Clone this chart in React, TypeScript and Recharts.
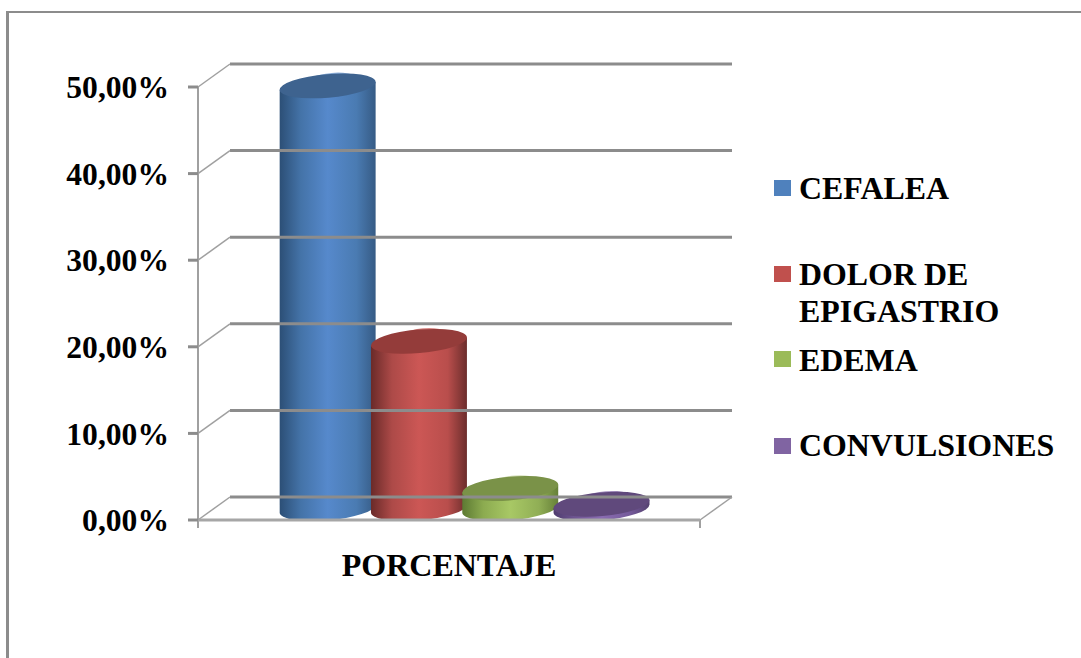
import React from 'react';
import { BarChart, Bar, XAxis, YAxis, Legend, ReferenceLine } from 'recharts';

const category = 'PORCENTAJE';
const seriesNames = ['CEFALEA', 'DOLOR DE EPIGASTRIO', 'EDEMA', 'CONVULSIONES'];
const seriesValues = [48.8, 19.3, 2.3, 0.5];
const legendColors = ['#4f81bd', '#c0504d', '#9bbb59', '#8064a2'];
const topColors = ['#3e638f', '#943c3a', '#7a9248', '#60497c'];
const rimColors = ['#8fb0da', '#d88a88', '#d4dfb8', '#a996c4'];
const sideStops = [
  ['#2c4f76', '#4473a8', '#5689cc', '#4a7bb2', '#365b85'],
  ['#6a2a29', '#ad4a48', '#cc5755', '#b94e4c', '#6c2d2c'],
  ['#5d7a33', '#8cab50', '#a8c865', '#90ae55', '#668038'],
  ['#4f3d6e', '#6f5592', '#8a6cb2', '#755a9a', '#54416f'],
];
const yTicks = [0, 10, 20, 30, 40, 50];
const legendRowTops = [170, 256, 342, 427];
const legendSwatchTops = [180, 266, 351, 438];

const tableRow: Record<string, string | number> = { name: category };
seriesNames.forEach((n, i) => {
  tableRow[n] = seriesValues[i];
});
const rows = [tableRow];

const DEPTH_X = 32;
const DEPTH_Y = 23;
const TILT = (5 * Math.PI) / 180;
const RY = 11.8;
const OVERLAP = 5;
const SERIF = '"Liberation Serif", "Times New Roman", serif';

// Cylinder standing midway through the depth of the floor, tilted with the perspective.
function cylinder(index: number) {
  return function CylinderShape(props: any) {
    const { x, y, width, height } = props;
    const a = (width + OVERLAP) / 2;
    const b = RY;
    const cx = x + width / 2 + DEPTH_X / 2;
    const topY = y - DEPTH_Y / 2;
    const baseY = y + height - DEPTH_Y / 2;
    const t = Math.atan((b * Math.sin(TILT)) / (a * Math.cos(TILT)));
    const ex = a * Math.cos(t) * Math.cos(TILT) + b * Math.sin(t) * Math.sin(TILT);
    const ey = -a * Math.cos(t) * Math.sin(TILT) + b * Math.sin(t) * Math.cos(TILT);
    const tiltDeg = (TILT * 180) / Math.PI;
    const id = `cyl-side-${index}`;
    const body = [
      `M ${cx - ex} ${topY - ey}`,
      `L ${cx + ex} ${topY + ey}`,
      `L ${cx + ex} ${baseY + ey}`,
      `A ${a} ${b} ${-tiltDeg} 0 1 ${cx - ex} ${baseY - ey}`,
      'Z',
    ].join(' ');
    const transform = `rotate(${-tiltDeg} ${cx} ${topY})`;
    return (
      <g>
        <defs>
          <linearGradient id={id} x1="0" y1="0" x2="1" y2="0">
            <stop offset="0%" stopColor={sideStops[index][0]} />
            <stop offset="22%" stopColor={sideStops[index][1]} />
            <stop offset="50%" stopColor={sideStops[index][2]} />
            <stop offset="80%" stopColor={sideStops[index][3]} />
            <stop offset="100%" stopColor={sideStops[index][4]} />
          </linearGradient>
        </defs>
        <path d={body} fill={`url(#${id})`} />
        <ellipse cx={cx + 5} cy={topY - 0.8} rx={a - 18} ry={b} fill={rimColors[index]} transform={transform} />
        <ellipse cx={cx} cy={topY} rx={a} ry={b} fill={topColors[index]} transform={transform} />
      </g>
    );
  };
}

// Back-wall gridline plus the diagonal joining it to the front axis.
function wallLine(isFloor: boolean) {
  return function WallLine(props: any) {
    const { x1, y1, x2, y2 } = props;
    const backY = y1 - DEPTH_Y;
    return (
      <g>
        <line x1={x1 + DEPTH_X} y1={backY} x2={x2 + DEPTH_X} y2={y2 - DEPTH_Y} stroke="#8c8c8c" strokeWidth={3} />
        <line x1={x1} y1={y1} x2={x1 + DEPTH_X} y2={backY} stroke="#a0a0a0" strokeWidth={1.5} />
        {isFloor && (
          <g>
            <line x1={x2} y1={y2} x2={x2 + DEPTH_X} y2={backY} stroke="#a0a0a0" strokeWidth={1.5} />
            <line x1={x1} y1={y1} x2={x1} y2={y1 + 8} stroke="#a0a0a0" strokeWidth={2} />
            <line x1={x2} y1={y2} x2={x2} y2={y2 + 8} stroke="#a0a0a0" strokeWidth={2} />
          </g>
        )}
      </g>
    );
  };
}

function LegendBlock({ payload }: any) {
  return (
    <div style={{ position: 'relative', width: 0, height: 0 }}>
      {(payload ?? []).map((entry: any, i: number) => (
        <React.Fragment key={entry.value}>
          <div
            style={{
              position: 'absolute',
              left: 774,
              top: legendSwatchTops[i],
              width: 17,
              height: 16,
              background: legendColors[i],
            }}
          />
          <div
            style={{
              position: 'absolute',
              left: 799,
              top: legendRowTops[i],
              width: 240,
              fontFamily: SERIF,
              fontWeight: 700,
              fontSize: 31.9,
              lineHeight: '37px',
              color: '#000',
            }}
          >
            {entry.value}
          </div>
        </React.Fragment>
      ))}
    </div>
  );
}

export default function App() {
  return (
    <div style={{ position: 'absolute', left: 0, top: 0, width: 1081, height: 658, background: '#fff', overflow: 'hidden' }}>
      <div
        style={{
          position: 'absolute',
          left: 6,
          top: 11,
          right: 0,
          bottom: 0,
          borderLeft: '3px solid #8c8c8c',
          borderTop: '2px solid #8c8c8c',
        }}
      />
      <div style={{ position: 'absolute', left: 0, top: 0 }}>
        <BarChart
          width={1081}
          height={658}
          data={rows}
          margin={{ top: 87, right: 381, bottom: 0, left: 0 }}
          barSize={91.3}
          barGap={0}
        >
          <XAxis
            dataKey="name"
            axisLine={{ stroke: '#a6a6a6', strokeWidth: 3 }}
            tickLine={false}
            height={138}
            tick={{ fontFamily: SERIF, fontWeight: 700, fontSize: 32, fill: '#000' }}
            tickMargin={27}
          />
          <YAxis
            domain={[0, 50]}
            ticks={yTicks}
            width={198}
            interval={0}
            tickFormatter={(v: number) => `${v},00%`}
            axisLine={{ stroke: '#a0a0a0', strokeWidth: 2 }}
            tickLine={{ stroke: '#8c8c8c', strokeWidth: 3 }}
            tickSize={10}
            tickMargin={19}
            tick={{ fontFamily: SERIF, fontWeight: 700, fontSize: 31.6, fill: '#000' }}
          />
          {yTicks.map((t) => (
            <ReferenceLine key={t} y={t} ifOverflow="visible" shape={wallLine(t === 0)} />
          ))}
          <Legend
            layout="horizontal"
            verticalAlign="middle"
            align="center"
            itemSorter={null}
            wrapperStyle={{ left: 0, top: 0, width: 0, height: 0 }}
            content={LegendBlock}
          />
          {seriesNames.map((n, i) => (
            <Bar key={n} dataKey={n} name={n} fill={legendColors[i]} isAnimationActive={false} shape={cylinder(i)} />
          ))}
        </BarChart>
      </div>
    </div>
  );
}
